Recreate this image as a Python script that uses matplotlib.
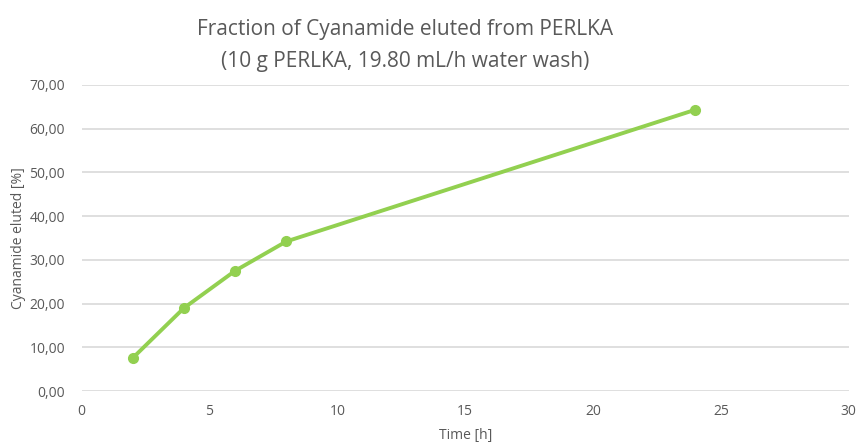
import matplotlib
matplotlib.use("Agg")
import matplotlib.pyplot as plt
from matplotlib.ticker import FuncFormatter

# Data
time_h = [2, 4, 6, 8, 24]
eluted_pct = [7.6, 19.0, 27.5, 34.2, 64.3]

title_line1 = "Fraction of Cyanamide eluted from PERLKA"
title_line2 = "(10 g PERLKA, 19.80 mL/h water wash)"

plt.rcParams['font.family'] = ['Open Sans', 'DejaVu Sans']
text_grey = '#595959'
green = '#92D050'

fig = plt.figure(figsize=(8.58, 4.44), dpi=100)
ax = fig.add_axes([0.0952, 0.119, 0.894, 0.690])

ax.plot(time_h, eluted_pct, color=green, linewidth=2.8, marker='o', markersize=7,
        solid_capstyle='round', zorder=3)

ax.set_xlim(0, 30)
ax.set_ylim(0, 70)
ax.set_xticks(range(0, 31, 5))
ax.set_yticks(range(0, 71, 10))
ax.yaxis.set_major_formatter(FuncFormatter(lambda v, p: f"{v:.2f}".replace('.', ',')))

ax.grid(axis='y', color='#D9D9D9', linewidth=1.2)
ax.set_axisbelow(True)
for s in ax.spines.values():
    s.set_visible(False)
ax.tick_params(length=0, colors=text_grey, labelsize=10)
ax.tick_params(axis='x', pad=9)
ax.tick_params(axis='y', pad=12)

ax.set_xlabel('Time [h]', color=text_grey, fontsize=10, va='center')
ax.xaxis.set_label_coords(0.5, -0.145)
ax.set_ylabel('Cyanamide eluted [%]', color=text_grey, fontsize=10, va='center')
ax.yaxis.set_label_coords(-0.083, 0.5)

fig.text(0.472, 1 - 35 / 444, title_line1, ha='center', va='baseline', fontsize=15, color=text_grey)
fig.text(0.472, 1 - 67 / 444, title_line2, ha='center', va='baseline', fontsize=15, color=text_grey)

fig.savefig('out.png', dpi=100)
